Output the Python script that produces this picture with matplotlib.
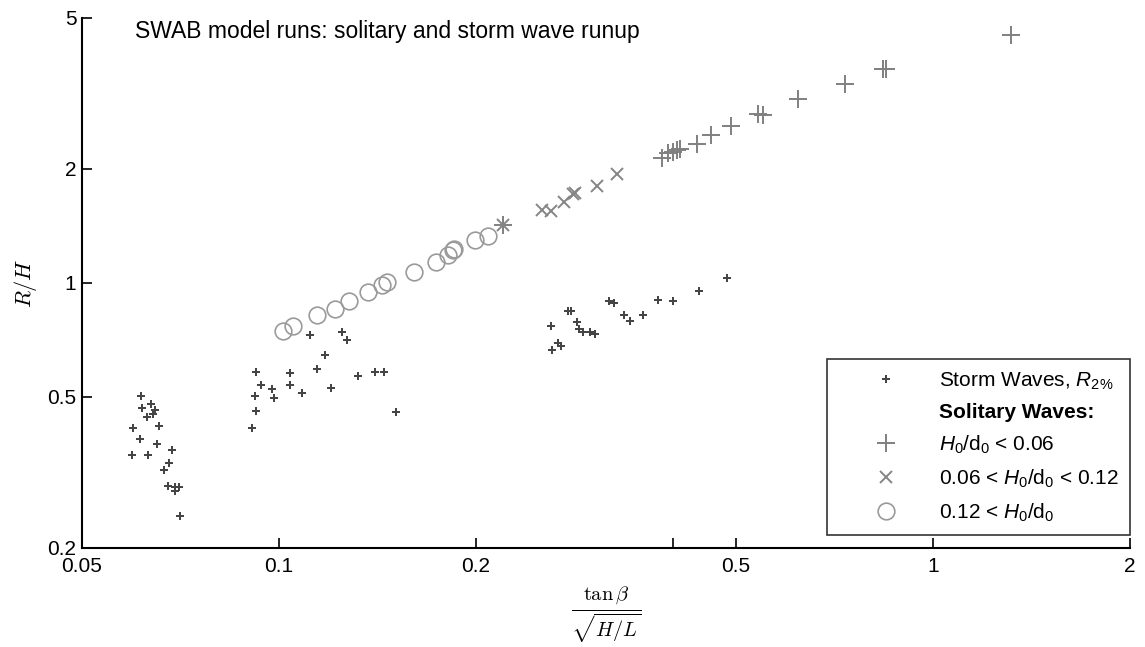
import matplotlib
matplotlib.use("Agg")
import matplotlib.pyplot as plt
from matplotlib.lines import Line2D

plt.rcParams['font.family'] = ['Liberation Sans', 'DejaVu Sans']
plt.rcParams['mathtext.fontset'] = 'custom'
plt.rcParams['mathtext.rm'] = 'Liberation Sans'
plt.rcParams['mathtext.it'] = 'Liberation Sans:italic'
plt.rcParams['mathtext.bf'] = 'Liberation Sans:bold'

# storm waves, R2%
storm_x = [0.0615, 0.0618, 0.0637, 0.0647, 0.0643, 0.0629, 0.0599, 0.0656, 0.0613, 0.0650,
           0.0686, 0.0596, 0.0631, 0.0679, 0.0667, 0.0677, 0.0694, 0.0703, 0.0694, 0.0707,
           0.0924, 0.0938, 0.0975, 0.0920, 0.0983, 0.0924, 0.0911, 0.1041, 0.1039, 0.1084,
           0.1144, 0.1178, 0.1200, 0.1323, 0.1401, 0.1450, 0.1510, 0.1117, 0.1250, 0.1271,
           0.2605, 0.2619, 0.2675, 0.2703, 0.2768, 0.2797, 0.2854, 0.2877, 0.2921, 0.2984,
           0.3041, 0.3195, 0.3258, 0.3371, 0.3447, 0.3604, 0.3803, 0.4000, 0.4389, 0.4849]
storm_y = [0.502, 0.468, 0.480, 0.461, 0.451, 0.442, 0.414, 0.420, 0.388, 0.375,
           0.363, 0.351, 0.351, 0.335, 0.321, 0.291, 0.289, 0.290, 0.282, 0.242,
           0.583, 0.539, 0.526, 0.503, 0.497, 0.460, 0.414, 0.579, 0.537, 0.513,
           0.593, 0.646, 0.529, 0.566, 0.580, 0.581, 0.456, 0.729, 0.740, 0.708,
           0.768, 0.666, 0.692, 0.680, 0.842, 0.842, 0.789, 0.757, 0.740, 0.742,
           0.733, 0.898, 0.882, 0.821, 0.792, 0.820, 0.900, 0.898, 0.953, 1.032]

# solitary waves, H0/d0 < 0.06
low_x = [0.2202, 0.3849, 0.3939, 0.4009, 0.4057, 0.4105, 0.4358, 0.4570, 0.4913, 0.5409,
         0.5505, 0.6226, 0.7347, 0.838, 0.846, 1.316]
low_y = [1.417, 2.129, 2.195, 2.221, 2.238, 2.249, 2.320, 2.462, 2.586, 2.782,
         2.780, 3.048, 3.342, 3.678, 3.678, 4.498]

# solitary waves, 0.06 < H0/d0 < 0.12
mid_x = [0.2202, 0.2523, 0.2605, 0.2729, 0.2820, 0.2832, 0.3062, 0.3293]
mid_y = [1.417, 1.560, 1.547, 1.635, 1.720, 1.729, 1.799, 1.932]

# solitary waves, 0.12 < H0/d0
high_x = [0.1014, 0.1052, 0.1145, 0.1218, 0.1280, 0.1367, 0.1439, 0.1462, 0.1608, 0.1739,
          0.1812, 0.1844, 0.1853, 0.1997, 0.2086]
high_y = [0.748, 0.771, 0.821, 0.854, 0.893, 0.945, 0.989, 1.003, 1.071, 1.135,
          1.183, 1.219, 1.229, 1.296, 1.328]

xticks = [0.05, 0.1, 0.2, 0.4, 0.5, 1, 2]
xticklabels = ['0.05', '0.1', '0.2', '', '0.5', '1', '2']
yticks = [0.2, 0.5, 1, 2, 5]
yticklabels = ['0.2', '0.5', '1', '2', '5']

fig = plt.figure(figsize=(11.45, 6.47), dpi=100)
ax = fig.add_axes([0.0716, 0.1535, 0.9153, 0.8187])

dot_style = dict(linestyle='none', marker='P', ms=5.5, color='#454545', markeredgewidth=0)
plus_style = dict(linestyle='none', marker='+', ms=13, color='#808080', mew=1.4)
cross_style = dict(linestyle='none', marker='x', ms=9, color='#858585', mew=1.4)
ring_style = dict(linestyle='none', marker='o', ms=12, mfc='none', mec='#9a9a9a', mew=1.2)

ax.plot(storm_x, storm_y, **dot_style)
ax.plot(low_x, low_y, **plus_style)
ax.plot(mid_x, mid_y, **cross_style)
ax.plot(high_x, high_y, **ring_style)

ax.set_xscale('log')
ax.set_yscale('log')
ax.set_xlim(0.05, 2)
ax.set_ylim(0.2, 5)
ax.set_xticks(xticks)
ax.set_xticklabels(xticklabels)
ax.set_yticks(yticks)
ax.set_yticklabels(yticklabels)
ax.minorticks_off()
ax.tick_params(direction='in', length=7, width=1.2, labelsize=15)
ax.tick_params(axis='x', pad=7)
ax.tick_params(axis='y', pad=4)
for s in ['top', 'right']:
    ax.spines[s].set_visible(False)
for s in ['left', 'bottom']:
    ax.spines[s].set_linewidth(1.5)

ax.set_ylabel(r'$R/H$', math_fontfamily='cm', fontsize=16, labelpad=6)
ax.set_xlabel(r'$\frac{\tan\beta}{\sqrt{H/L}}$', math_fontfamily='cm', fontsize=21, labelpad=6)

ax.text(0.0506, 0.9736, 'SWAB model runs: solitary and storm wave runup',
        transform=ax.transAxes, fontsize=16.5, va='center', ha='left')

handles = [
    Line2D([], [], **dot_style),
    Line2D([], [], linestyle='none'),
    Line2D([], [], **plus_style),
    Line2D([], [], **cross_style),
    Line2D([], [], **ring_style),
]
labels = [
    r'Storm Waves, $R_{\mathrm{2\%}}$',
    'Solitary Waves:',
    r'$H_{\mathrm{0}}$/d$_{\mathrm{0}}$ < 0.06',
    r'0.06 < $H_{\mathrm{0}}$/d$_{\mathrm{0}}$ < 0.12',
    r'0.12 < $H_{\mathrm{0}}$/d$_{\mathrm{0}}$',
]
leg = ax.legend(handles, labels, loc='lower right', bbox_to_anchor=(1.0, 0.024),
                borderaxespad=0, fontsize=15, frameon=True, fancybox=False,
                edgecolor='black', handlelength=4.5, handletextpad=0.3,
                labelspacing=0.55, borderpad=0.55)
leg.get_frame().set_linewidth(1.2)
leg.get_texts()[1].set_fontweight('bold')

fig.savefig('out.png', dpi=100)
